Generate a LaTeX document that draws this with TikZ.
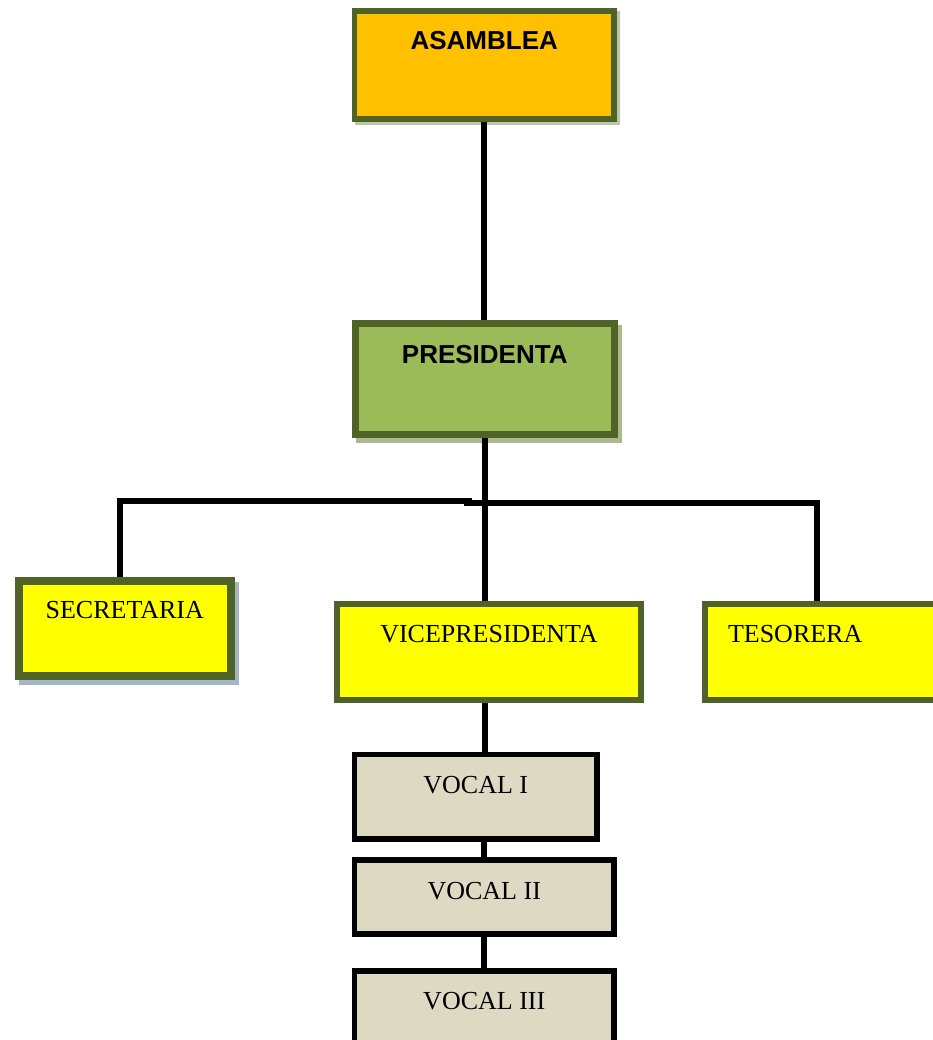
\documentclass[tikz,border=0pt]{standalone}
\usepackage{fontspec}
\setmainfont{Liberation Serif}
\newfontfamily\arialfont{Liberation Sans}
\usetikzlibrary{shadows}
\definecolor{oliveB}{HTML}{4F6228}
\definecolor{orangeA}{HTML}{FFC000}
\definecolor{greenP}{HTML}{9BBB59}
\definecolor{yellowS}{HTML}{FFFF00}
\definecolor{vocalfill}{HTML}{DDD9C3}
\definecolor{shgreenA}{HTML}{BCC6AC}
\definecolor{shgreenP}{HTML}{AAB98E}
\definecolor{shblue}{HTML}{A3B6C3}
\begin{document}
\begin{tikzpicture}[x=1pt,y=-1pt,
  orgbox/.style={rectangle, inner sep=0pt, anchor=north west, font=\fontsize{26}{30}\selectfont},
  olivebox/.style={orgbox, draw=oliveB},
  vocalbox/.style={orgbox, draw=black, fill=vocalfill, line width=5.5pt, minimum width=259.5pt},
  shadowA/.style={general shadow={shadow xshift=3pt, shadow yshift=-3pt, fill=shgreenA, draw=shgreenA}},
  shadowP/.style={general shadow={shadow xshift=4pt, shadow yshift=-5pt, fill=shgreenP, draw=shgreenP}},
  shadowS/.style={general shadow={shadow xshift=4pt, shadow yshift=-5pt, fill=shblue, draw=shblue}},
  link/.style={draw=black, line width=6pt, line join=miter, line cap=butt}]
\useasboundingbox (0,0) rectangle (932,1040);
\fill[white] (0,0) rectangle (932,1040);

\node[olivebox, shadowA, fill=orangeA, line width=5.5pt, minimum width=259.5pt,
      text height=39pt, text depth=69pt, font=\arialfont\bfseries\fontsize{26}{30}\selectfont]
  (asamblea) at (351.75,8.25) {ASAMBLEA};
\node[olivebox, shadowP, fill=greenP, line width=7pt, minimum width=259.5pt,
      text height=40pt, text depth=71pt, font=\arialfont\bfseries\fontsize{26}{30}\selectfont]
  (presidenta) at (351.5,319.5) {PRESIDENTA};
\node[olivebox, shadowS, fill=yellowS, line width=8pt, minimum width=212.5pt,
      text height=37pt, text depth=58pt]
  (secretaria) at (14.5,577) {SECRETARIA};
\node[olivebox, fill=yellowS, line width=6pt, minimum width=304pt,
      text height=38pt, text depth=58pt]
  (vice) at (334,601) {VICEPRESIDENTA};
\node[olivebox, fill=yellowS, line width=6pt, inner xsep=23pt, text width=214pt, align=left,
      text height=38pt, text depth=58pt]
  (tesorera) at (702,601) {TESORERA};
\node[vocalbox, minimum width=242.5pt, text height=38.5pt, text depth=46pt]
  (vocal1) at (351.75,751.75) {VOCAL I};
\node[vocalbox, text height=39pt, text depth=35pt]
  (vocal2) at (351.75,857.25) {VOCAL II};
\node[vocalbox, text height=38pt, text depth=60pt]
  (vocal3) at (351.75,968.25) {VOCAL III};

\coordinate (jl) at (472,500.5);
\coordinate (jr) at (464,503);
\draw[link] (asamblea.south) -- (asamblea.south |- presidenta.north);
\draw[link] (presidenta.south) -- (presidenta.south |- vice.north);
\draw[link] (jl) -| ([xshift=-4.75pt]secretaria.north);
\draw[link] (jr) -| ([xshift=115pt]tesorera.north west);
\draw[link] (presidenta.south |- vice.south) -- (presidenta.south |- vocal1.north);
\draw[link] (vocal2.north) -- (vocal2.north |- vocal1.south);
\draw[link] (vocal2.south) -- (vocal3.north);
\end{tikzpicture}
\end{document}
